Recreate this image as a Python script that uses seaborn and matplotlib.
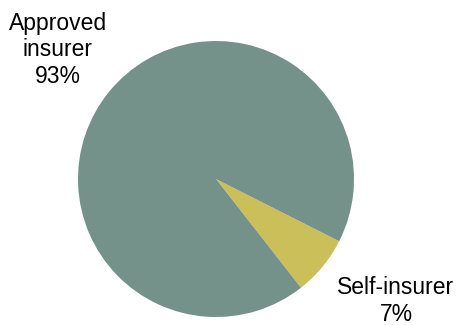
import matplotlib
matplotlib.use("Agg")
import matplotlib.pyplot as plt
import seaborn as sns

categories = ["Self-insurer", "Approved insurer"]
shares = [7, 93]
colors = ["#CBBF5A", "#74918A"]

sns.set_theme(style="white")
plt.rcParams['font.family'] = ['Liberation Sans', 'DejaVu Sans']

fig = plt.figure(figsize=(4.59, 3.25), dpi=100)
ax = fig.add_axes([0, 0, 1, 1])
ax.set_xlim(0, 459)
ax.set_ylim(0, 325)
ax.set_aspect('equal')
ax.axis('off')

ax.pie(shares, colors=colors, startangle=-52, counterclock=True,
       center=(216, 146), radius=138, frame=True,
       wedgeprops=dict(linewidth=0))
ax.set_xlim(0, 459)
ax.set_ylim(0, 325)
ax.axis('off')

label_pos = {"Approved insurer": (58, 275), "Self-insurer": (396, 24)}
label_text = {"Approved insurer": "Approved\ninsurer", "Self-insurer": "Self-insurer"}
for cat, val in zip(categories, shares):
    x, y = label_pos[cat]
    ax.text(x, y, f"{label_text[cat]}\n{val}%", ha='center', va='center',
            fontsize=16.5, color='black', linespacing=1.2)

fig.savefig("out.png", dpi=100, facecolor='white')
